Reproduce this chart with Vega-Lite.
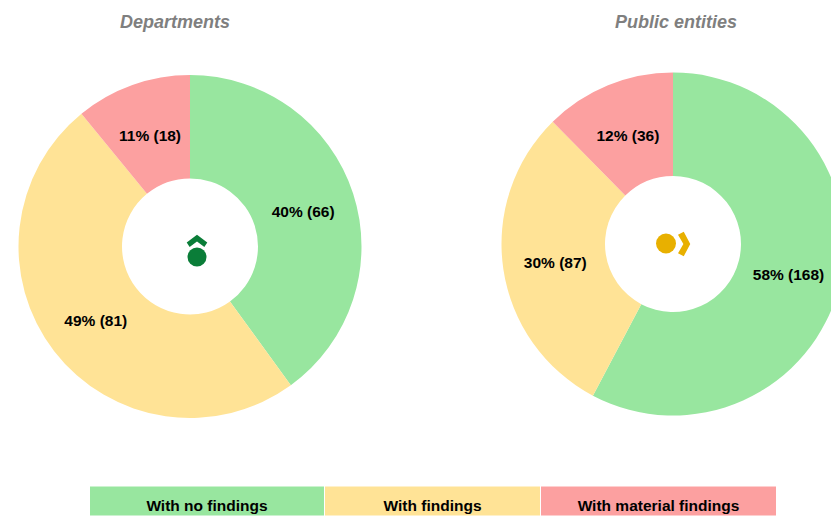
{
"$schema":"https://vega.github.io/schema/vega-lite/v6.json",
"width":831,"height":516,"autosize":{"type":"fit","contains":"padding"},"padding":0,
"background":"white",
"config":{"view":{"stroke":null},"font":"Liberation Sans"},
"datasets":{
"pies":[
{"group":"Departments","category":"With no findings","rank":0,"count":66,"label":"40% (66)"},
{"group":"Departments","category":"With findings","rank":1,"count":81,"label":"49% (81)"},
{"group":"Departments","category":"With material findings","rank":2,"count":18,"label":"11% (18)"},
{"group":"Public entities","category":"With no findings","rank":0,"count":168,"label":"58% (168)"},
{"group":"Public entities","category":"With findings","rank":1,"count":87,"label":"30% (87)"},
{"group":"Public entities","category":"With material findings","rank":2,"count":36,"label":"12% (36)"}],
"groups":[{"group":"Departments"},{"group":"Public entities"}],
"legend":[
{"category":"With no findings","rank":0,"next":1,"strip":"legend"},
{"category":"With findings","rank":1,"next":2,"strip":"legend"},
{"category":"With material findings","rank":2,"next":3,"strip":"legend"}]
},
"layer":[
{"data":{"name":"pies"},
 "transform":[
  {"stack":"count","groupby":["group"],"sort":[{"field":"rank","order":"ascending"}],"offset":"normalize","as":["start","end"]},
  {"calculate":"(datum.start+datum.end)/2","as":"mid"}],
 "encoding":{
  "x":{"field":"group","type":"nominal","axis":null,"scale":{"type":"point","padding":0,"domain":["Departments","Public entities"],"range":[190,673]}},
  "y":{"field":"group","type":"nominal","axis":null,"scale":{"type":"point","padding":0,"domain":["Departments","Public entities"],"range":[246.5,244]}}
 },
 "layer":[
  {"mark":{"type":"arc","outerRadius":171.5,"innerRadius":68},
   "encoding":{
    "theta":{"field":"start","type":"quantitative","stack":null,"scale":{"domain":[0,1],"range":[0,6.2832]}},
    "theta2":{"field":"end"},
    "color":{"field":"category","type":"nominal","legend":null,"scale":{"domain":["With no findings","With findings","With material findings"],"range":["#98E69F","#FFE396","#FCA0A0"]}}}},
  {"mark":{"type":"text","radius":119,"fontWeight":"bold","fontSize":15.5,"color":"black","dy":2},
   "encoding":{
    "theta":{"field":"mid","type":"quantitative","stack":null,"scale":{"domain":[0,1],"range":[0,6.2832]}},
    "text":{"field":"label"}}}
 ]},
{"data":{"name":"groups"},
 "mark":{"type":"text","fontWeight":"bold","fontStyle":"italic","fontSize":18,"color":"#7F7F7F"},
 "encoding":{
  "x":{"field":"group","type":"nominal","axis":null,"scale":{"type":"point","padding":0,"domain":["Departments","Public entities"],"range":[175,676]}},
  "y":{"field":"group","type":"nominal","axis":null,"scale":{"type":"point","padding":0,"domain":["Departments","Public entities"],"range":[22.5,22.5]}},
  "text":{"field":"group"}}},
{"data":{"name":"groups"},
 "mark":{"type":"point","shape":"circle","filled":true,"opacity":1},
 "encoding":{
  "x":{"field":"group","type":"nominal","axis":null,"scale":{"type":"point","padding":0,"domain":["Departments","Public entities"],"range":[197,666]}},
  "y":{"field":"group","type":"nominal","axis":null,"scale":{"type":"point","padding":0,"domain":["Departments","Public entities"],"range":[257,243.5]}},
  "size":{"field":"group","type":"nominal","legend":null,"scale":{"domain":["Departments","Public entities"],"range":[361,400]}},
  "color":{"field":"group","type":"nominal","legend":null,"scale":{"domain":["Departments","Public entities"],"range":["#0A7D38","#E8B000"]}}}},
{"data":{"name":"groups"},
 "transform":[{"filter":"datum.group=='Departments'"}],
 "mark":{"type":"point","filled":true,"opacity":1,"color":"#0A7D38","size":441,"shape":"M0 -0.6 L0.98 0.14 L0.7 0.56 L0 0.05 L-0.7 0.56 L-0.98 0.14 Z"},
 "encoding":{
  "x":{"field":"group","type":"nominal","axis":null,"scale":{"type":"point","padding":0,"domain":["Departments"],"range":[197,197]}},
  "y":{"field":"group","type":"nominal","axis":null,"scale":{"type":"point","padding":0,"domain":["Departments"],"range":[241,241]}}}},
{"data":{"name":"groups"},
 "transform":[{"filter":"datum.group=='Public entities'"}],
 "mark":{"type":"point","filled":true,"opacity":1,"color":"#E8B000","size":625,"shape":"M0.5 0 L-0.02 0.98 L-0.48 0.74 L-0.05 0 L-0.48 -0.74 L-0.02 -0.98 Z"},
 "encoding":{
  "x":{"field":"group","type":"nominal","axis":null,"scale":{"type":"point","padding":0,"domain":["Public entities"],"range":[684,684]}},
  "y":{"field":"group","type":"nominal","axis":null,"scale":{"type":"point","padding":0,"domain":["Public entities"],"range":[244,244]}}}},
{"data":{"name":"legend"},
 "transform":[{"calculate":"datum.rank+0.5","as":"centre"}],
 "encoding":{
  "y":{"field":"strip","type":"nominal","axis":null,"scale":{"type":"band","paddingInner":0,"paddingOuter":0,"domain":["legend"],"range":[486,516]}}
 },
 "layer":[
  {"mark":{"type":"rect","stroke":"white","strokeWidth":1},
   "encoding":{
    "x":{"field":"rank","type":"quantitative","axis":null,"scale":{"type":"linear","domain":[0,1,2,3],"range":[89.5,324.5,540.5,776.5]}},
    "x2":{"field":"next"},
    "color":{"field":"category","type":"nominal","legend":null,"scale":{"domain":["With no findings","With findings","With material findings"],"range":["#98E69F","#FFE396","#FCA0A0"]}}}},
  {"mark":{"type":"text","fontWeight":"bold","fontSize":15.5,"color":"black","dy":5},
   "encoding":{
    "x":{"field":"centre","type":"quantitative","axis":null,"scale":{"type":"linear","domain":[0,1,2,3],"range":[89.5,324.5,540.5,776.5]}},
    "text":{"field":"category"}}}
 ]}
],
"resolve":{"scale":{"x":"independent","y":"independent","color":"independent","size":"independent"}}
}
